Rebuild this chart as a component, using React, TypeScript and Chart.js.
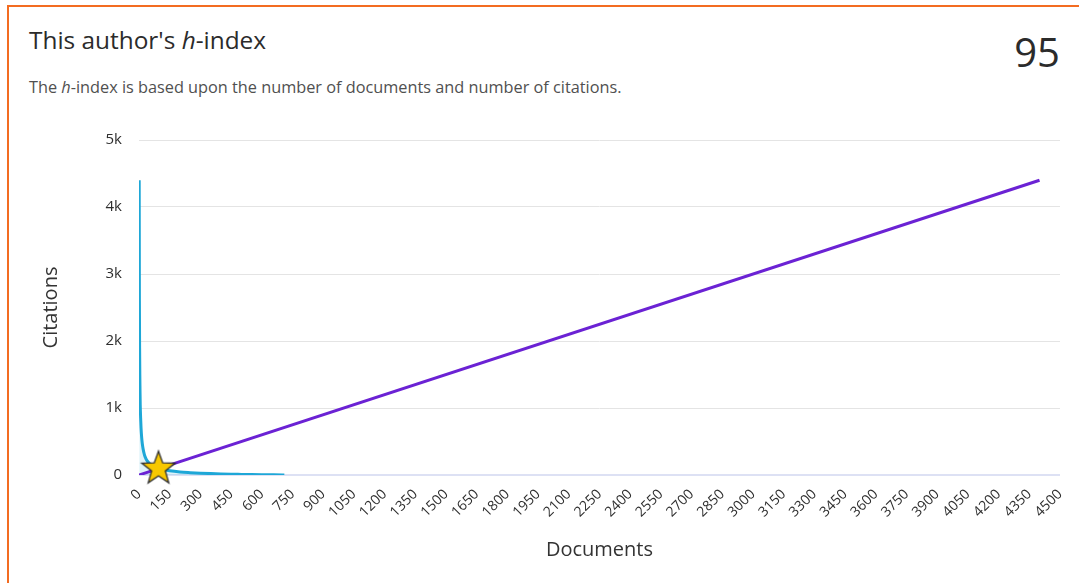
import React, { useEffect, useRef } from "react";
import { Chart, registerables } from "chart.js";

Chart.register(...registerables);

// ---- Data ----
const citationDocs = [1, 2, 3, 4, 5, 6, 8, 10, 13, 16, 20, 25, 30, 40, 50, 60, 75, 95, 120, 150, 200, 250, 300, 350, 400, 450, 500, 550, 600, 650, 700, 710];
const citationCounts = [4400, 2600, 1900, 1500, 1250, 1050, 850, 700, 560, 470, 390, 320, 270, 210, 175, 150, 122, 96, 78, 62, 45, 35, 27, 21, 16, 12, 9, 6, 4, 3, 1, 0];
const hLineDocs = [0, 4400];
const hLineCitations = [0, 4400];
const hIndexDocs = [95];
const hIndexCitations = [95];
const hIndexLabel = "95";
const xMax = 4500;
const xStep = 150;
const yMax = 5000;
const yStep = 1000;

const FONT = '"Open Sans", sans-serif';

function makeStar(): HTMLCanvasElement {
  const c = document.createElement("canvas");
  c.width = 40;
  c.height = 40;
  const ctx = c.getContext("2d")!;
  const cx = 20, cy = 20, R = 17.5, r = 7.2;
  ctx.beginPath();
  for (let i = 0; i < 10; i++) {
    const rad = i % 2 === 0 ? R : r;
    const a = -Math.PI / 2 + (i * Math.PI) / 5;
    const px = cx + rad * Math.cos(a);
    const py = cy + rad * Math.sin(a);
    if (i === 0) ctx.moveTo(px, py);
    else ctx.lineTo(px, py);
  }
  ctx.closePath();
  ctx.fillStyle = "#f8c800";
  ctx.fill();
  ctx.lineWidth = 1.3;
  ctx.strokeStyle = "#2e2e2e";
  ctx.lineJoin = "miter";
  ctx.stroke();
  return c;
}

export default function App() {
  const canvasRef = useRef<HTMLCanvasElement | null>(null);

  useEffect(() => {
    if (!canvasRef.current) return;
    const star = makeStar();
    const chart = new Chart(canvasRef.current, {
      type: "line",
      data: {
        datasets: [
          {
            label: "h-index",
            data: hIndexDocs.map((x, i) => ({ x, y: hIndexCitations[i] })),
            showLine: false,
            pointStyle: star as any,
            pointRadius: 18,
            clip: false as any,
          },
          {
            label: "h line",
            data: hLineDocs.map((x, i) => ({ x, y: hLineCitations[i] })),
            borderColor: "#6b22d4",
            borderWidth: 3,
            pointRadius: 0,
            fill: false,
          },
          {
            label: "Citations",
            data: citationDocs.map((x, i) => ({ x, y: citationCounts[i] })),
            borderColor: "#1ea7d7",
            borderWidth: 3,
            backgroundColor: "rgba(30,167,215,0.14)",
            fill: "origin",
            pointRadius: 0,
            cubicInterpolationMode: "monotone",
          },
        ],
      },
      options: {
        animation: false,
        responsive: false,
        maintainAspectRatio: false,
        layout: { padding: { top: 14, right: 0, bottom: 0, left: 0 } },
        plugins: {
          legend: { display: false },
          tooltip: { enabled: false },
        },
        scales: {
          x: {
            type: "linear",
            min: 0,
            max: xMax,
            afterFit: (s: any) => {
              s.height = 108;
              s.paddingRight = 18;
            },
            ticks: {
              stepSize: xStep,
              autoSkip: false,
              maxRotation: 45,
              minRotation: 45,
              padding: 3,
              color: "#2e2e2e",
              font: { family: FONT, size: 14 },
              callback: (v: any) => String(v),
            },
            grid: { display: false },
            border: { display: false },
            title: {
              display: true,
              text: "Documents",
              color: "#333333",
              font: { family: FONT, size: 20 },
              padding: { top: 0, bottom: 21 },
            },
          },
          y: {
            type: "linear",
            min: 0,
            max: yMax,
            afterFit: (s: any) => {
              s.width = 139;
            },
            ticks: {
              stepSize: yStep,
              padding: 17,
              color: "#2e2e2e",
              font: { family: FONT, size: 15 },
              callback: (v: any) => (Number(v) === 0 ? "0" : Number(v) / 1000 + "k"),
            },
            grid: {
              drawTicks: false,
              color: (ctx: any) => (ctx.tick && ctx.tick.value === 0 ? "#dde1f4" : "#e4e4e4"),
              lineWidth: (ctx: any) => (ctx.tick && ctx.tick.value === 0 ? 2 : 1),
            },
            border: { display: false },
            title: {
              display: true,
              text: "Citations",
              color: "#333333",
              font: { family: FONT, size: 20 },
              padding: { top: 39, bottom: 0 },
            },
          },
        },
      },
    });
    return () => chart.destroy();
  }, []);

  return (
    <div
      style={{
        position: "absolute",
        left: 0,
        top: 0,
        width: 1079,
        height: 583,
        overflow: "hidden",
        background: "#ffffff",
        fontFamily: FONT,
      }}
    >
      <div
        style={{
          position: "absolute",
          left: 7,
          top: 5,
          width: 1100,
          height: 620,
          borderTop: "2px solid #f36c21",
          borderLeft: "2px solid #f36c21",
          boxSizing: "border-box",
        }}
      />
      <div
        style={{
          position: "absolute",
          left: 29,
          top: 28,
          fontSize: 24.4,
          lineHeight: "24px",
          color: "#2b2b2b",
          whiteSpace: "nowrap",
        }}
      >
        This author's <i>h</i>-index
      </div>
      <div
        style={{
          position: "absolute",
          left: 29,
          top: 79,
          fontSize: 16.3,
          lineHeight: "16px",
          color: "#505050",
          whiteSpace: "nowrap",
        }}
      >
        The <i>h</i>-index is based upon the number of documents and number of citations.
      </div>
      <div
        style={{
          position: "absolute",
          right: 19,
          top: 32,
          fontSize: 40,
          lineHeight: "40px",
          color: "#2b2b2b",
          whiteSpace: "nowrap",
        }}
      >
        {hIndexLabel}
      </div>
      <canvas
        ref={canvasRef}
        width={1079}
        height={469}
        style={{ position: "absolute", left: 0, top: 114, width: 1079, height: 469 }}
      />
    </div>
  );
}
